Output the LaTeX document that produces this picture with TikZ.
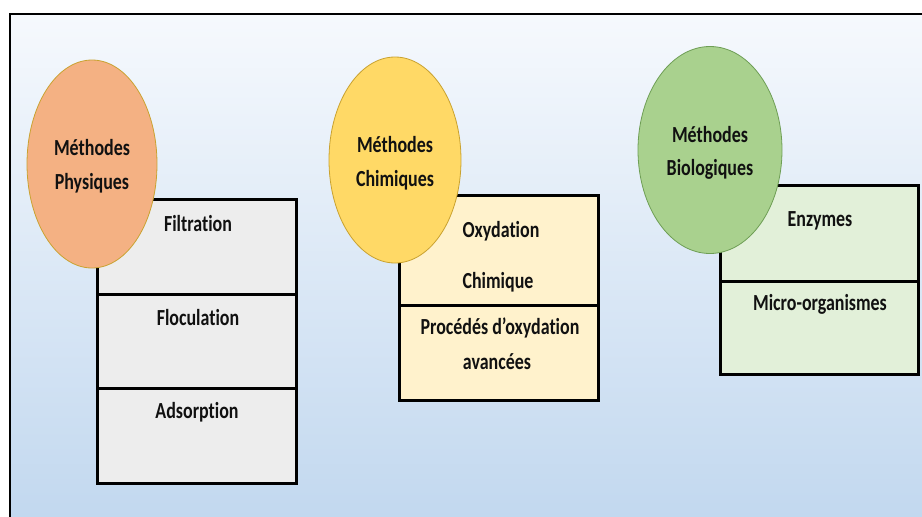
\documentclass[tikz,border=0pt]{standalone}
\usepackage{fontspec}
\setmainfont[FakeStretch=0.78,Ligatures=NoCommon]{Carlito}
\usetikzlibrary{shapes.geometric}
\definecolor{bgtop}{HTML}{F6F9FD}
\definecolor{bgbot}{HTML}{C2D8EF}
\definecolor{orfill}{HTML}{F4B183}
\definecolor{orline}{HTML}{C9A230}
\definecolor{yefill}{HTML}{FFD966}
\definecolor{yeline}{HTML}{C9A230}
\definecolor{grfill}{HTML}{A9D18E}
\definecolor{grline}{HTML}{6E9E55}
\definecolor{cellgray}{HTML}{EDEDED}
\definecolor{cellcream}{HTML}{FFF2CC}
\definecolor{cellgreen}{HTML}{E2F0D9}
\definecolor{txt}{HTML}{111111}
\tikzset{
  cellbox/.style={draw=black, line width=2.8pt, rectangle, inner sep=0pt, minimum width=199pt},
  blob/.style={ellipse, line width=0.8pt, inner sep=0pt},
  lbl/.style={font=\fontsize{23}{26}\selectfont\bfseries, text=txt, inner sep=0pt},
}
\begin{document}
\begin{tikzpicture}[x=1pt,y=-1pt]
\useasboundingbox (0,0) rectangle (922,517);
\fill[white] (0,0) rectangle (922,517);
\shade[top color=bgtop, bottom color=bgbot] (10,14) rectangle (922,517);
\draw[line width=2pt, black] (10,517) -- (10,14) -- (922,14);

% Physiques
\node[cellbox, fill=cellgray, minimum height=95pt, anchor=north west] (p1) at (96,198) {};
\node[cellbox, fill=cellgray, minimum height=94pt, anchor=north west] (p2) at (96,293) {};
\node[cellbox, fill=cellgray, minimum height=95pt, anchor=north west] (p3) at (96,387) {};
\node[lbl] (tp1) at (198,224) {Filtration};
\node[lbl] (tp2) at (198,318) {Floculation};
\node[lbl] (tp3) at (197,412) {Adsorption};
\node[blob, fill=orfill, draw=orline, minimum width=130pt, minimum height=208pt] (ep) at (92,164) {};
\node[lbl] (ep1) at (92,148) {Méthodes};
\node[lbl] (ep2) at (92,183) {Physiques};

% Chimiques
\node[cellbox, fill=cellcream, minimum height=110pt, anchor=north west] (c1) at (398,194) {};
\node[cellbox, fill=cellcream, minimum height=95pt, anchor=north west] (c2) at (398,304) {};
\node[lbl] (tc1) at (501,231) {Oxydation};
\node[lbl] (tc2) at (498,282) {Chimique};
\node[lbl] (tc3) at (500,328) {Procédés d’oxydation};
\node[lbl] (tc4) at (497,362) {avancées};
\node[blob, fill=yefill, draw=yeline, minimum width=132pt, minimum height=206pt] (ec) at (395,160) {};
\node[lbl] (ec1) at (395,145) {Méthodes};
\node[lbl] (ec2) at (395,180) {Chimiques};

% Biologiques
\node[cellbox, fill=cellgreen, minimum height=96pt, minimum width=198pt, anchor=north west] (b1) at (719,184) {};
\node[cellbox, fill=cellgreen, minimum height=93pt, minimum width=198pt, anchor=north west] (b2) at (719,280) {};
\node[lbl] (tb1) at (820,221) {Enzymes};
\node[lbl] (tb2) at (820,304) {Micro-organismes};
\node[blob, fill=grfill, draw=grline, minimum width=144pt, minimum height=207pt] (eb) at (710,150) {};
\node[lbl] (eb1) at (710,135) {Méthodes};
\node[lbl] (eb2) at (710,169) {Biologiques};
\end{tikzpicture}
\end{document}
